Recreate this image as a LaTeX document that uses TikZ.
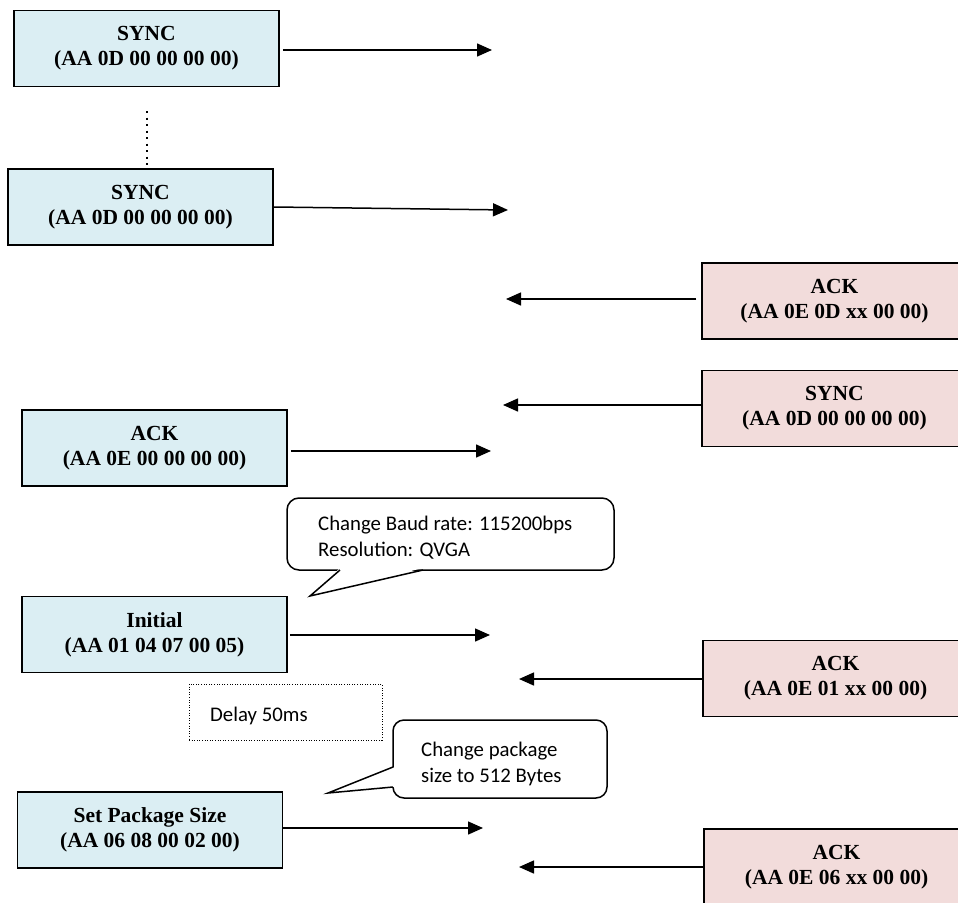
\documentclass[tikz,border=0pt]{standalone}
\usepackage{fontspec}
\setmainfont{Liberation Serif}
\newfontfamily\calib{Carlito}
\usetikzlibrary{arrows.meta}
\definecolor{hostfill}{HTML}{DBEEF3}
\definecolor{camfill}{HTML}{F2DCDB}
\tikzset{
  msgbox/.style={draw=black, line width=1.5pt, minimum width=265pt, minimum height=76pt,
    inner sep=0pt, align=center, font=\fontsize{21.5}{25}\selectfont\bfseries},
  hostbox/.style={msgbox, fill=hostfill},
  cambox/.style={msgbox, fill=camfill},
  arr/.style={line width=1.5pt, -{Triangle[length=15pt,width=13pt]}},
  callout/.style={draw=black, line width=1.5pt, fill=white},
  tailside/.style={draw=black, line width=1.5pt, line join=miter},
  note/.style={font=\calib\fontsize{20.8}{26}\selectfont, align=left, inner sep=0pt, anchor=west},
}
\begin{document}
\begin{tikzpicture}[x=1pt,y=-1pt]
\useasboundingbox (0,0) rectangle (958,902);
\clip (0,0) rectangle (958,902);

% host (left) boxes
\node[hostbox] (s1) at (146.5,48.5) {SYNC\\(AA 0D 00 00 00 00)};
\node[hostbox] (s2) at (140.5,207) {SYNC\\(AA 0D 00 00 00 00)};
\node[hostbox] (hack) at (154.5,448) {ACK\\(AA 0E 00 00 00 00)};
\node[hostbox] (init) at (154.5,634.5) {Initial\\(AA 01 04 07 00 05)};
\node[hostbox] (pkg) at (150,830) {Set Package Size\\(AA 06 08 00 02 00)};

% camera (right) boxes
\node[cambox] (c1) at (834.5,301) {ACK\\(AA 0E 0D xx 00 00)};
\node[cambox] (c2) at (834.5,408.5) {SYNC\\(AA 0D 00 00 00 00)};
\node[cambox] (c3) at (835.5,678.5) {ACK\\(AA 0E 01 xx 00 00)};
\node[cambox] (c4) at (836.5,867) {ACK\\(AA 0E 06 xx 00 00)};

% free arrow ends
\coordinate (e1) at (492,50);
\coordinate (e2) at (508,210);
\coordinate (e3) at (506,299);
\coordinate (e4) at (503,405);
\coordinate (e5) at (491,451);
\coordinate (e6) at (490,635);
\coordinate (e7) at (519,679);
\coordinate (e8) at (483,828);
\coordinate (e9) at (519,867);
\coordinate (f2) at (274,207);

\draw[arr] ([xshift=3pt]s1.east |- e1) -- (e1);
\draw[arr] (f2) -- (e2);
\draw[arr] ([xshift=-5pt]c1.west |- e3) -- (e3);
\draw[arr] (c2.west |- e4) -- (e4);
\draw[arr] ([xshift=3pt]hack.east |- e5) -- (e5);
\draw[arr] ([xshift=2pt]init.east |- e6) -- (e6);
\draw[arr] (c3.west |- e7) -- (e7);
\draw[arr] (pkg.east |- e8) -- (e8);
\draw[arr] (c4.west |- e9) -- (e9);

% dotted continuation between SYNC boxes
\coordinate (d1) at (147,111);
\coordinate (d2) at (147,165);
\draw[line width=2.2pt, dash pattern=on 2pt off 4.5pt] (d1) -- (d2);

% callout 1
\node[callout, rounded corners=12pt, minimum width=327pt, minimum height=72pt, inner sep=0pt] (b1) at (450.5,534) {};
\fill[white] (340,568) -- (310,596) -- (423,568) -- cycle;
\draw[tailside] (340,570) -- (310,596) -- (423,570);
\node[note] (n1) at (318,538) {Change Baud rate: 115200bps\\Resolution: QVGA};

% delay box
\node[draw=black, line width=0.8pt, dash pattern=on 1pt off 1.6pt, minimum width=193pt, minimum height=56pt, inner sep=0pt] (delay) at (285.5,712) {};
\node[note] (dtxt) at (210,716) {Delay 50ms};

% callout 2
\node[callout, rounded corners=11pt, minimum width=214pt, minimum height=78pt, inner sep=0pt] (b2) at (500,759) {};
\fill[white] (395,767) -- (328,793) -- (395,787) -- cycle;
\draw[tailside] (393,767) -- (328,793) -- (393,787);
\node[note] (n2) at (421,764) {Change package\\size to 512 Bytes};
\end{tikzpicture}
\end{document}
